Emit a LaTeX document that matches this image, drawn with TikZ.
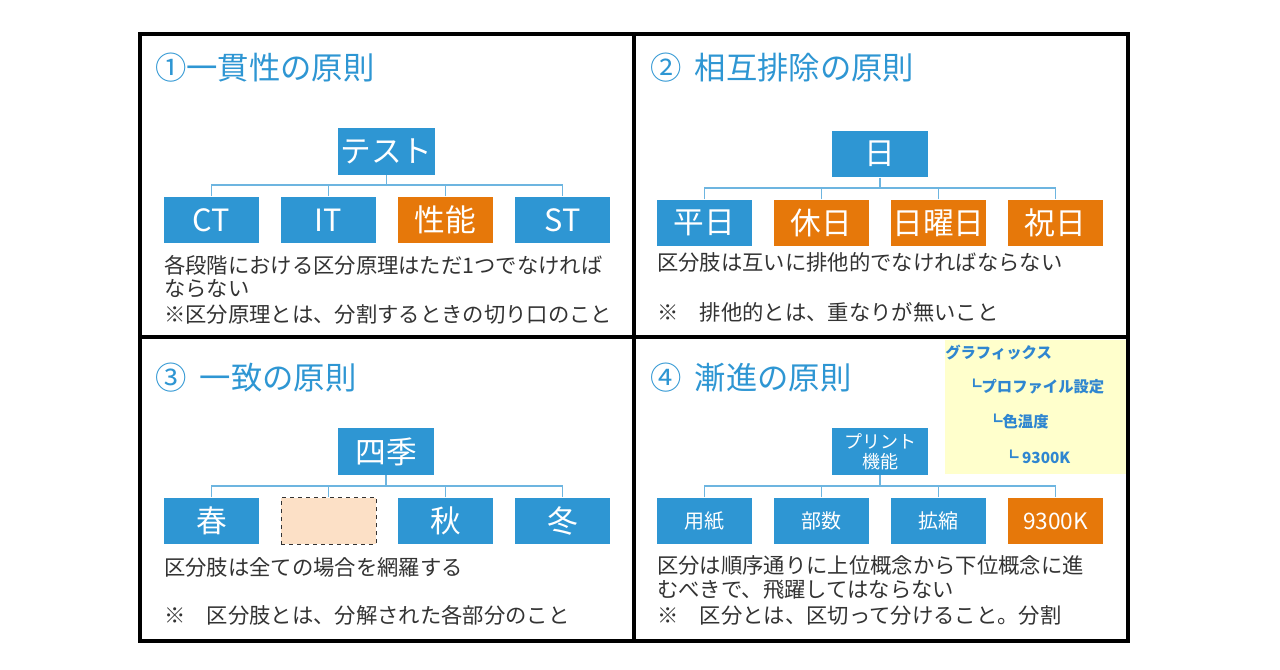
\documentclass[tikz,border=0pt]{standalone}
\usepackage{fontspec}
\setmainfont{Noto Sans CJK JP}
\begin{document}
\begin{tikzpicture}[x=0.75pt,y=-0.75pt,
  bx/.style={fill=blue1,text=white,inner sep=0pt,minimum width=71.25pt,minimum height=35pt,font=\fontsize{23pt}{25pt}\selectfont},
  ox/.style={bx,fill=orange1},
  sx/.style={bx,font=\fontsize{15pt}{17pt}\selectfont},
  rt/.style={minimum width=72.5pt},
  ttl/.style={anchor=west,text=blue1,font=\fontsize{23.5pt}{26pt}\selectfont,inner sep=0pt},
  bd/.style={anchor=west,text=txt,font=\fontsize{16pt}{18pt}\selectfont,inner sep=0pt},
  yl/.style={anchor=west,text=blue2,font=\bfseries\fontsize{11.5pt}{13pt}\selectfont,inner sep=0pt},
  cn/.style={draw=blue1!70,line width=1pt},
  fr/.style={draw=black,line width=2.5pt}]
\definecolor{blue1}{HTML}{2E96D3}
\definecolor{blue2}{HTML}{2F86D0}
\definecolor{orange1}{HTML}{E6780A}
\definecolor{txt}{HTML}{333333}
\definecolor{peach}{HTML}{FCE0C6}
\definecolor{yel}{HTML}{FFFFCC}
\useasboundingbox (0,0) rectangle (1280,670);
\fill[white] (0,0) rectangle (1280,670);
% yellow note
\fill[yel] (945,340) rectangle (1126,474);
% frame
\draw[fr] (140,34) rectangle (1128,641);
\draw[fr] (634,34) -- (634,641);
\draw[fr] (140,337) -- (1128,337);
% Q1
\node[ttl] (t1) at (155,68) {①一貫性の原則};
\node[bx,rt] (r1) at (386.5,151.5) {テスト};
\node[bx] (a1) at (211.5,220) {CT};
\node[bx] (b1) at (328.5,220) {IT};
\node[ox] (c1) at (445.5,220) {性能};
\node[bx] (d1) at (562.5,220) {ST};
\coordinate (m1) at (386.5,185);
\draw[cn] (r1.south) -- (m1) (a1.north) |- (m1) -| (d1.north);
\draw[cn] (b1.north) -- (b1.north |- m1) (c1.north) -- (c1.north |- m1);
\node[bd] (p1) at (164,265) {各段階における区分原理はただ1つでなければ};
\node[bd] (p2) at (164,289) {ならない};
\node[bd] (p3) at (164,314) {※区分原理とは、分割するときの切り口のこと};
% Q2
\node[ttl] (t2) at (650,68) {②\hspace{10pt}相互排除の原則};
\node[bx,rt] (r2) at (880,154) {日};
\node[bx] (a2) at (704.5,223) {平日};
\node[ox] (b2) at (821.5,223) {休日};
\node[ox] (c2) at (938.5,223) {日曜日};
\node[ox] (d2) at (1055.5,223) {祝日};
\coordinate (m2) at (880,188);
\draw[cn] (r2.south) -- (m2) (a2.north) |- (m2) -| (d2.north);
\draw[cn] (b2.north) -- (b2.north |- m2) (c2.north) -- (c2.north |- m2);
\node[bd] (q1) at (657,262) {区分肢は互いに排他的でなければならない};
\node[bd] (q2) at (657,312) {※\quad 排他的とは、重なりが無いこと};
% Q3
\node[ttl] (t3) at (155,378) {③\hspace{10pt}一致の原則};
\node[bx,rt] (r3) at (386,451.5) {四季};
\node[bx] (a3) at (211.5,521) {春};
\node[bx,draw=txt,dashed,fill=peach] (b3) at (328.5,521) {};
\node[bx] (c3) at (445.5,521) {秋};
\node[bx] (d3) at (562.5,521) {冬};
\coordinate (m3) at (386,486);
\draw[cn] (r3.south) -- (m3) (a3.north) |- (m3) -| (d3.north);
\draw[cn] (b3.north) -- (b3.north |- m3) (c3.north) -- (c3.north |- m3);
\node[bd] (s1) at (164,567) {区分肢は全ての場合を網羅する};
\node[bd] (s2) at (164,615) {※\quad 区分肢とは、分解された各部分のこと};
% Q4
\node[ttl] (t4) at (650,378) {④\hspace{10pt}漸進の原則};
\node[sx,rt,align=center,font=\fontsize{13.5pt}{15pt}\selectfont] (r4) at (880,451.5) {プリント\\機能};
\node[sx] (a4) at (704.5,521) {用紙};
\node[sx] (b4) at (821.5,521) {部数};
\node[sx] (c4) at (938.5,521) {拡縮};
\node[ox,font=\fontsize{17pt}{19pt}\selectfont] (d4) at (1055.5,521) {9300K};
\coordinate (m4) at (880,486);
\draw[cn] (r4.south) -- (m4) (a4.north) |- (m4) -| (d4.north);
\draw[cn] (b4.north) -- (b4.north |- m4) (c4.north) -- (c4.north |- m4);
\node[bd] (u1) at (657,565) {区分は順序通りに上位概念から下位概念に進};
\node[bd] (u2) at (657,590) {むべきで、飛躍してはならない};
\node[bd] (u3) at (657,615) {※\quad 区分とは、区切って分けること。分割};
\node[yl] (y1) at (945,353) {グラフィックス};
\node[yl] (y2) at (966,387) {┗プロファイル設定};
\node[yl] (y3) at (987,422) {┗色温度};
\node[yl] (y4) at (1003,457) {┗ 9300K};
\end{tikzpicture}
\end{document}
